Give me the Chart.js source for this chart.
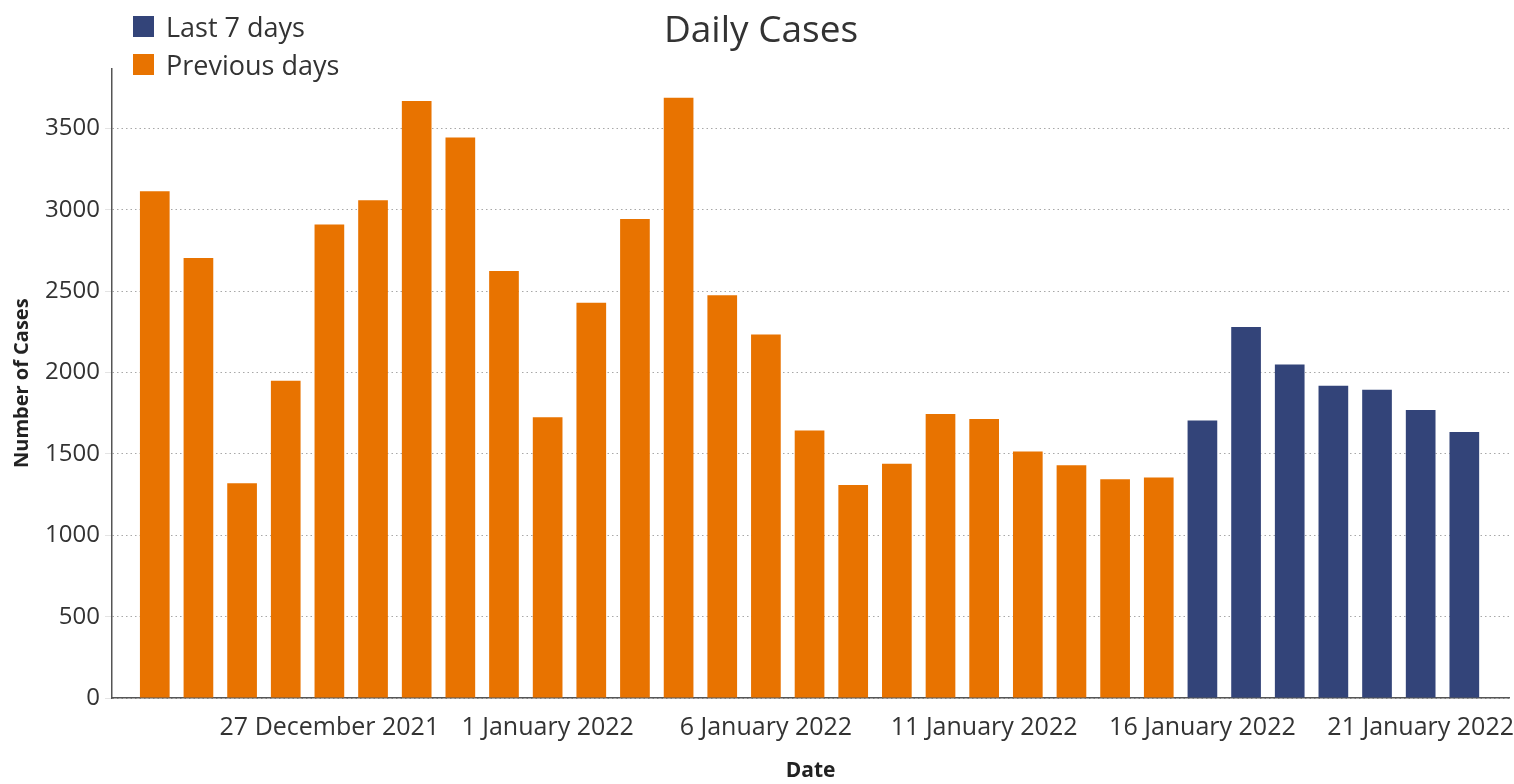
<!DOCTYPE html>
<html>
<head>
<meta charset="utf-8">
<title>Daily Cases</title>
<script src="https://cdn.jsdelivr.net/npm/chart.js@4"></script>
<style>
  html, body { margin: 0; padding: 0; background: #fff; }
  #wrap { position: relative; width: 1514px; height: 784px; }
  #legend { position: absolute; left: 133px; top: 7px; font-family: 'Open Sans', sans-serif; font-size: 27px; color: #333; }
  #legend .item { display: flex; align-items: center; height: 38px; }
  #legend .box { width: 21px; height: 21px; margin-right: 12px; }
</style>
</head>
<body>
<div id="wrap">
  <canvas id="dailyCasesChart" width="1514" height="784"></canvas>
  <div id="legend"></div>
</div>
<script>
const dates = [
  '23 December 2021', '24 December 2021', '25 December 2021', '26 December 2021',
  '27 December 2021', '28 December 2021', '29 December 2021', '30 December 2021',
  '31 December 2021', '1 January 2022', '2 January 2022', '3 January 2022',
  '4 January 2022', '5 January 2022', '6 January 2022', '7 January 2022',
  '8 January 2022', '9 January 2022', '10 January 2022', '11 January 2022',
  '12 January 2022', '13 January 2022', '14 January 2022', '15 January 2022',
  '16 January 2022', '17 January 2022', '18 January 2022', '19 January 2022',
  '20 January 2022', '21 January 2022', '22 January 2022',
];
const cases = [
  3115, 2705, 1320, 1950, 2910, 3060, 3670, 3445, 2625, 1725,
  2430, 2945, 3690, 2475, 2235, 1645, 1310, 1440, 1745, 1715,
  1515, 1430, 1345, 1355, 1705, 2280, 2050, 1920, 1895, 1770,
  1635,
];
const tickDates = [
  '27 December 2021', '1 January 2022', '6 January 2022',
  '11 January 2022', '16 January 2022', '21 January 2022',
];
const yTicks = [0, 500, 1000, 1500, 2000, 2500, 3000, 3500];
const lastDays = 7;

const orange = '#e87300';
const navy = '#334479';

function toPoints(from, to) {
  return cases.slice(from, to).map((v, i) => ({ x: from + i, y: v }));
}

function buildLegend(chart) {
  const el = document.getElementById('legend');
  chart.data.datasets.forEach((ds) => {
    const item = document.createElement('div');
    item.className = 'item';
    const box = document.createElement('span');
    box.className = 'box';
    box.style.background = ds.backgroundColor;
    const txt = document.createElement('span');
    txt.textContent = ds.label;
    item.appendChild(box);
    item.appendChild(txt);
    el.appendChild(item);
  });
}

function renderDailyCases() {
  const canvas = document.getElementById('dailyCasesChart');
  const split = cases.length - lastDays;

  // eslint-disable-next-line no-undef
  const chart = new Chart(canvas, {
    type: 'bar',
    data: {
      datasets: [
        {
          label: 'Last 7 days',
          data: toPoints(split, cases.length),
          backgroundColor: navy,
          grouped: false,
        },
        {
          label: 'Previous days',
          data: toPoints(0, split),
          backgroundColor: orange,
          grouped: false,
        },
      ],
    },
    options: {
      responsive: false,
      animation: false,
      layout: { padding: { left: 8, right: 0, top: 0, bottom: 0 } },
      categoryPercentage: 1.0,
      barPercentage: 0.68,
      plugins: {
        legend: { display: false },
        tooltip: { enabled: false },
        title: {
          display: true,
          text: 'Daily Cases',
          color: '#333',
          font: { family: 'Open Sans', size: 37, weight: 'normal' },
          padding: { top: 9, bottom: 15 },
        },
      },
      scales: {
        x: {
          type: 'linear',
          offset: false,
          bounds: 'data',
          min: -0.98,
          max: 31.03,
          grid: { display: false, tickLength: 15 },
          border: { color: '#555', width: 1.5 },
          afterBuildTicks(scale) {
            scale.ticks = tickDates.map((d) => ({ value: dates.indexOf(d) }));
          },
          afterFit(scale) { scale.height = 86; },
          ticks: {
            autoSkip: false,
            maxRotation: 0,
            padding: 0,
            color: '#333',
            font: { family: 'Open Sans', size: 25 },
            callback: (v) => dates[v],
          },
          title: {
            display: true,
            text: 'Date',
            color: '#222',
            font: { family: 'Open Sans', size: 21, weight: 'bold' },
            padding: { top: 0, bottom: 0 },
          },
        },
        y: {
          min: 0,
          max: 3870,
          afterBuildTicks(scale) {
            scale.ticks = yTicks.map((v) => ({ value: v }));
          },
          afterFit(scale) { scale.width = 104; },
          grid: { color: '#a8a8a8', tickColor: '#e4e4e4', tickLength: 7 },
          border: { color: '#555', width: 1.5, dash: [1.5, 3] },
          ticks: {
            padding: 5,
            color: '#333',
            font: { family: 'Open Sans', size: 24 },
            callback: (v) => String(v),
          },
          title: {
            display: true,
            text: 'Number of Cases',
            color: '#222',
            font: { family: 'Open Sans', size: 20, weight: 'bold' },
            padding: { top: 2, bottom: 2 },
          },
        },
      },
    },
  });

  buildLegend(chart);
}

renderDailyCases();
</script>
</body>
</html>
